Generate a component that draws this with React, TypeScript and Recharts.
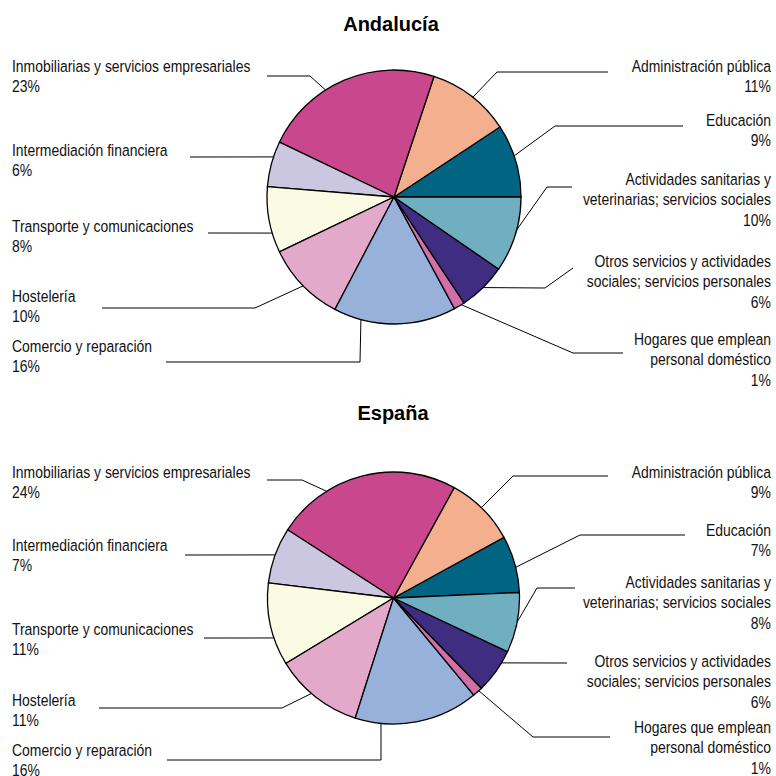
import React from 'react';
import { PieChart, Pie, Cell } from 'recharts';

// ---- data ----
const sectorNames = [
  'Educación',
  'Administración pública',
  'Inmobiliarias y servicios empresariales',
  'Intermediación financiera',
  'Transporte y comunicaciones',
  'Hostelería',
  'Comercio y reparación',
  'Hogares que emplean personal doméstico',
  'Otros servicios y actividades sociales; servicios personales',
  'Actividades sanitarias y veterinarias; servicios sociales',
];
const sectorLabelLines = [
  ['Educación'],
  ['Administración pública'],
  ['Inmobiliarias y servicios empresariales'],
  ['Intermediación financiera'],
  ['Transporte y comunicaciones'],
  ['Hostelería'],
  ['Comercio y reparación'],
  ['Hogares que emplean', 'personal doméstico'],
  ['Otros servicios y actividades', 'sociales; servicios personales'],
  ['Actividades sanitarias y', 'veterinarias; servicios sociales'],
];
const andaluciaValues = [9.3, 10.6, 23.0, 5.8, 8.4, 10.2, 15.6, 1.4, 6.1, 9.6];
const espanaValues = [7.3, 9.0, 23.9, 7.2, 10.6, 11.4, 15.9, 1.3, 5.7, 7.7];
const titles = ['Andalucía', 'España'];

// ---- styles ----
const sectorColors = [
  '#006482', '#F4AF8E', '#C9478D', '#CCC7E0', '#FBFBE3',
  '#E2A9CA', '#97B1DA', '#D06FA8', '#3E2D80', '#6FAFC0',
];
const FONT = "'Liberation Sans', Arial, sans-serif";
const FONT_SIZE = 17;
const SCALE_X = 0.82;
const LINE_H = 20.5;

type LabelLayout = { x: number; y: number; anchor: 'start' | 'end'; attach: number; pts: [number, number][] };

const layoutAndalucia: LabelLayout[] = [
  { x: 771, y: 126, anchor: 'end', attach: 18.9, pts: [[555, 126], [683, 126]] },
  { x: 771, y: 72, anchor: 'end', attach: 51.7, pts: [[497, 72], [608, 72]] },
  { x: 12, y: 72, anchor: 'start', attach: 122.6, pts: [[310, 76], [267, 76]] },
  { x: 12, y: 156, anchor: 'start', attach: 161.6, pts: [[190, 157]] },
  { x: 12, y: 232, anchor: 'start', attach: 196.5, pts: [[208, 233]] },
  { x: 12, y: 302, anchor: 'start', attach: 224.4, pts: [[255, 308], [102, 308]] },
  { x: 12, y: 352, anchor: 'start', attach: 254.9, pts: [[360, 362], [166, 362]] },
  { x: 771, y: 345, anchor: 'end', attach: 302, pts: [[573, 353], [623, 353]] },
  { x: 771, y: 267, anchor: 'end', attach: 314.5, pts: [[545, 288], [573, 268]] },
  { x: 771, y: 185, anchor: 'end', attach: 345, pts: [[547, 187], [572, 187]] },
];
const layoutEspana: LabelLayout[] = [
  { x: 771, y: 536, anchor: 'end', attach: 14.1, pts: [[580, 535], [685, 535]] },
  { x: 771, y: 478, anchor: 'end', attach: 45.8, pts: [[513, 476], [608, 476]] },
  { x: 12, y: 478, anchor: 'start', attach: 122.1, pts: [[302, 480], [267, 480]] },
  { x: 12, y: 551, anchor: 'start', attach: 160, pts: [[185, 555]] },
  { x: 12, y: 635, anchor: 'start', attach: 198.5, pts: [[204, 638]] },
  { x: 12, y: 706, anchor: 'start', attach: 229.3, pts: [[282, 708], [99, 708]] },
  { x: 12, y: 756, anchor: 'start', attach: 264.3, pts: [[381, 760], [167, 760]] },
  { x: 771, y: 733, anchor: 'end', attach: 312.6, pts: [[533, 737], [610, 737]] },
  { x: 771, y: 667, anchor: 'end', attach: 329, pts: [[567, 663]] },
  { x: 771, y: 588, anchor: 'end', attach: 349, pts: [[537, 588], [575, 588]] },
];

const buildData = (values: number[]) =>
  sectorNames.map((name, i) => ({ name, value: values[i], lines: sectorLabelLines[i] }));

const andaluciaData = buildData(andaluciaValues);
const espanaData = buildData(espanaValues);

const makeLabel = (layout: LabelLayout[]) => (props: any) => {
  const { cx, cy, outerRadius, index, percent, payload } = props;
  const L = layout[index];
  const rad = (L.attach * Math.PI) / 180;
  const sx = cx + outerRadius * Math.cos(rad);
  const sy = cy - outerRadius * Math.sin(rad);
  const points = [[sx, sy], ...L.pts].map((p) => p.join(',')).join(' ');
  const lines: string[] = [...(payload.lines || []), `${Math.round(percent * 100)}%`];
  return (
    <g key={`lbl-${index}`}>
      <polyline points={points} fill="none" stroke="#000" strokeWidth={1} />
      <g transform={`translate(${L.x},0) scale(${SCALE_X},1) translate(${-L.x},0)`}>
        <text x={L.x} y={L.y} textAnchor={L.anchor} fontFamily={FONT} fontSize={FONT_SIZE} fill="#111">
          {lines.map((t, k) => (
            <tspan key={k} x={L.x} y={L.y + k * LINE_H}>
              {t}
            </tspan>
          ))}
        </text>
      </g>
    </g>
  );
};

export default function App() {
  return (
    <div style={{ position: 'absolute', left: 0, top: 0, width: 776, height: 776, background: '#fff' }}>
      <div style={{ position: 'absolute', left: 0, top: 0 }}>
        <PieChart width={776} height={776} margin={{ top: 0, right: 0, bottom: 0, left: 0 }}>
          <Pie
            data={andaluciaData}
            dataKey="value"
            nameKey="name"
            cx={394}
            cy={197}
            outerRadius={127}
            startAngle={0}
            endAngle={360}
            isAnimationActive={false}
            label={makeLabel(layoutAndalucia)}
            labelLine={false}
          >
            {andaluciaData.map((d, i) => (
              <Cell key={d.name} fill={sectorColors[i]} stroke="#000" strokeWidth={1.3} />
            ))}
          </Pie>
          <Pie
            data={espanaData}
            dataKey="value"
            nameKey="name"
            cx={393.5}
            cy={598}
            outerRadius={126}
            startAngle={2.5}
            endAngle={362.5}
            isAnimationActive={false}
            label={makeLabel(layoutEspana)}
            labelLine={false}
          >
            {espanaData.map((d, i) => (
              <Cell key={d.name} fill={sectorColors[i]} stroke="#000" strokeWidth={1.3} />
            ))}
          </Pie>
        </PieChart>
      </div>
      <svg width={776} height={776} style={{ position: 'absolute', left: 0, top: 0, pointerEvents: 'none' }}>
        <text x={391} y={31} textAnchor="middle" fontFamily={FONT} fontWeight="bold" fontSize={20} fill="#000">
          {titles[0]}
        </text>
        <text x={393} y={420} textAnchor="middle" fontFamily={FONT} fontWeight="bold" fontSize={20} fill="#000">
          {titles[1]}
        </text>
      </svg>
    </div>
  );
}
